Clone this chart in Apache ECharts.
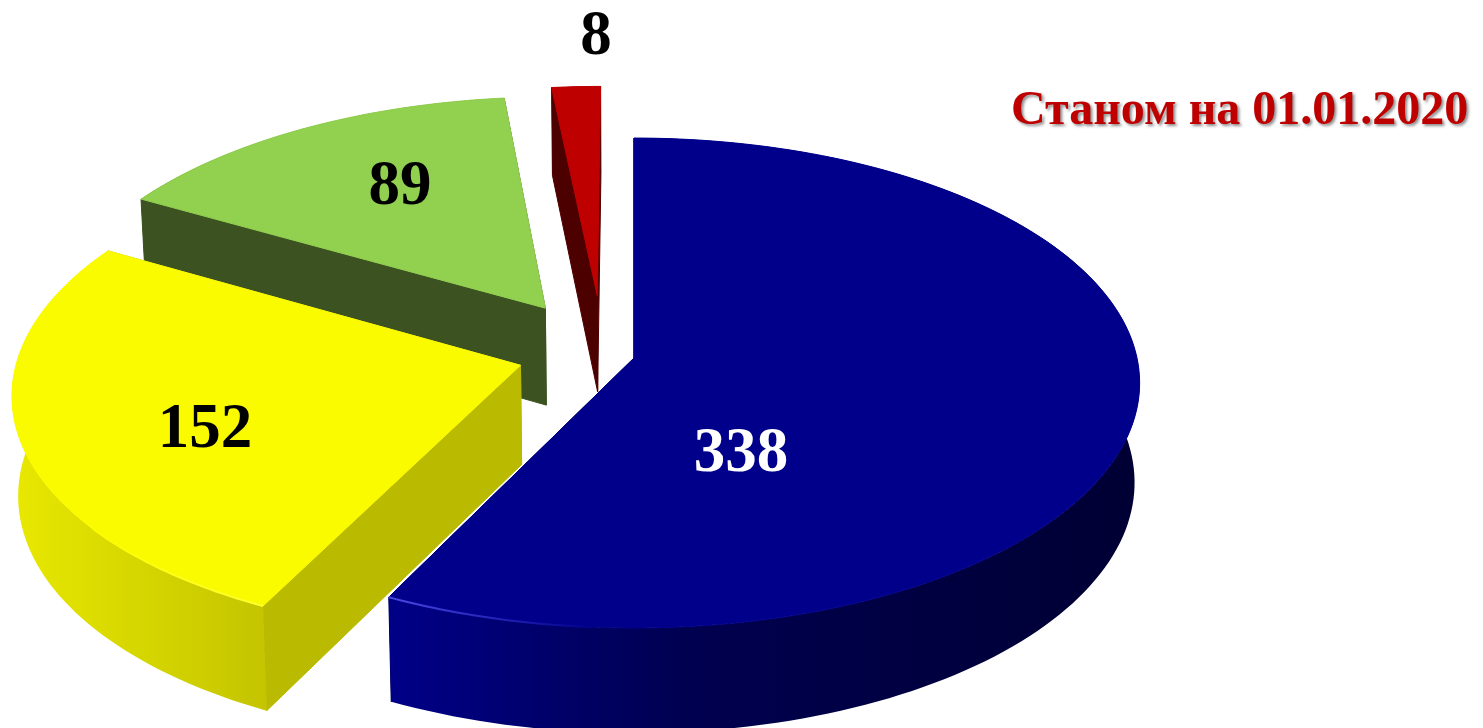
<!DOCTYPE html>
<html><head><meta charset="utf-8">
<style>html,body{margin:0;padding:0;background:#fff}#c{width:1483px;height:728px}</style>
<script src="https://cdn.jsdelivr.net/npm/echarts@6/dist/echarts.min.js"></script>
</head><body><div id="c"></div>
<script>
const sliceValues = [338, 152, 89, 8];
const sliceLabels = ['338', '152', '89', '8'];
const titleText = 'Станом на 01.01.2020';

// Layout and style (not data)
const cx = 634, cy = 358, R = 503, Ry = 242.4, K = 0.102, DEPTH = 99, LOWER_SCALE = 0.99;
const explode = [[0, 0], [-0.225, 0.03], [-0.18, -0.21], [-0.075, -0.265]];
const boundaryNudgeDeg = [0, -1, -1, -1.4, 0];
const labelPos = [[741, 455], [205, 431], [400, 188], [596, 38]];
const labelColor = ['#fff', '#000', '#000', '#000'];
const topColor = ['#00008b', '#fbfb00', '#92d050', '#bf0000'];
const innerColor = ['#000060', '#baba00', '#3c5321', '#4d0000'];
const wallStops = [
  [[0, '#000088'], [0.4, '#000050'], [1, '#000033']],
  [[0, '#e8e800'], [1, '#c4c400']],
  [[0, '#3c5321'], [1, '#3c5321']],
  [[0, '#4d0000'], [1, '#4d0000']]
];
// highlight along the front rim: colour at the sharp corner, then sweep in degrees
const rimGlow = [['#4a4ae6', 22], ['#ffff33', 25], null, null];
const total = sliceValues.reduce((a, b) => a + b, 0);

function project(u, v, lower) {
  const s = 1 / (1 - K * v);
  const x = R * u * s, y = Ry * v * s;
  if (!lower) return [cx + x, cy + y];
  const d = s < 1 ? DEPTH * s : DEPTH * (1 + 0.55 * (s - 1));
  return [cx + x * LOWER_SCALE, cy + y + d];
}
function boundary(i) {
  let a = 0;
  for (let k = 0; k < i; k++) a += sliceValues[k];
  return (a / total * 360 + boundaryNudgeDeg[i]) * Math.PI / 180;
}

function renderSlice(params, api) {
  const i = api.value(0);
  const a0 = boundary(i), a1 = boundary(i + 1);
  const [ou, ov] = explode[i];
  const steps = Math.max(4, Math.ceil((a1 - a0) * 40));
  const rimAt = a => [ou + Math.sin(a), ov - Math.cos(a)];
  const rim = [];
  for (let n = 0; n <= steps; n++) rim.push(rimAt(a0 + (a1 - a0) * n / steps));
  const top = rim.map(p => project(p[0], p[1], false));
  const low = rim.map(p => project(p[0], p[1], true));
  const apexT = project(ou, ov, false), apexB = project(ou, ov, true);
  const wallFill = new echarts.graphic.LinearGradient(0, 0, 1, 0,
    wallStops[i].map(s => ({ offset: s[0], color: s[1] })));
  const poly = (points, fill, stroke) => ({
    type: 'polygon', shape: { points },
    style: { fill, stroke: stroke || fill, lineWidth: 1, lineJoin: 'round' }
  });
  const face = (p, q, r, t) => poly([p, q, r, t], innerColor[i]);
  const children = [
    face(apexT, top[0], low[0], apexB),
    face(apexT, top[steps], low[steps], apexB),
    poly(top.concat(low.slice().reverse()), wallFill, 'none'),
    poly([apexT].concat(top), topColor[i])
  ];
  if (rimGlow[i]) {
    const [glowColor, sweep] = rimGlow[i];
    const pts = [];
    const corner = i === 0 ? a1 : a0;
    const dir = i === 0 ? -1 : 1;
    for (let n = 0; n <= 30; n++) {
      const p = rimAt(corner + dir * (sweep * Math.PI / 180) * n / 30);
      pts.push(project(p[0], p[1], false));
    }
    const glowGrad = new echarts.graphic.LinearGradient(0, 0, 1, 0,
      dir < 0
        ? [{ offset: 0, color: glowColor }, { offset: 1, color: topColor[i] }]
        : [{ offset: 0, color: topColor[i] }, { offset: 1, color: glowColor }]);
    children.push({
      type: 'polyline', shape: { points: pts },
      style: { fill: 'none', stroke: glowGrad, lineWidth: 2 }
    });
  }
  return { type: 'group', children };
}

// painted back to front, so the smallest rear slice goes first
const seriesData = sliceValues.map((v, i) => [i, v]).reverse();

const chart = echarts.init(document.getElementById('c'), null, { renderer: 'canvas' });
chart.setOption({
  animation: false,
  backgroundColor: '#fff',
  title: {
    text: titleText, left: 1006, top: 83,
    textStyle: {
      fontFamily: 'Liberation Serif', fontWeight: 'bold', fontSize: 48, color: '#bf0000',
      textShadowColor: 'rgba(0,0,0,0.45)', textShadowBlur: 3, textShadowOffsetX: 2, textShadowOffsetY: 2
    }
  },
  series: [{
    type: 'custom', coordinateSystem: 'none', silent: true, clip: false,
    data: seriesData, renderItem: renderSlice
  }],
  graphic: sliceLabels.map((t, i) => ({
    type: 'text', x: labelPos[i][0], y: labelPos[i][1], z: 100,
    style: {
      text: t, fill: labelColor[i], align: 'center', verticalAlign: 'middle',
      font: 'bold 63px "Liberation Serif"'
    }
  }))
});
</script></body></html>
